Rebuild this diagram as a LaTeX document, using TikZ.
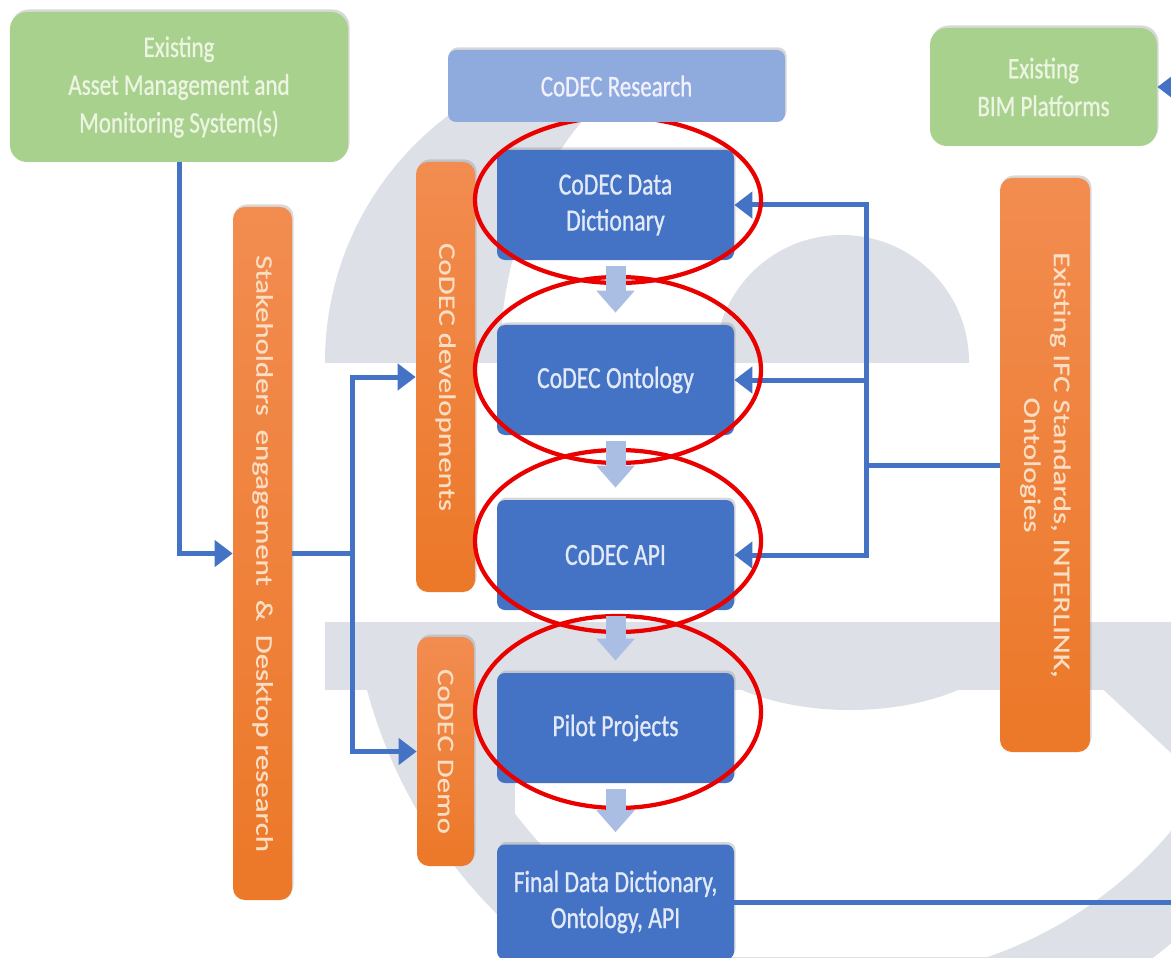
\documentclass[tikz,border=0pt]{standalone}
\usepackage{fontspec}
\setmainfont{Carlito}[FakeStretch=0.77, FakeBold=0.8]
\newfontfamily\sidefont{Carlito}[FakeStretch=1.3, FakeBold=0.6]
\usetikzlibrary{arrows.meta, positioning, shadows}

\definecolor{boxgreen}{RGB}{169,209,142}
\definecolor{greentext}{RGB}{236,244,226}
\definecolor{boxblue}{RGB}{68,114,196}
\definecolor{bluetext}{RGB}{226,234,248}
\definecolor{researchblue}{RGB}{143,170,220}
\definecolor{orangetop}{RGB}{242,140,80}
\definecolor{orangebot}{RGB}{236,120,40}
\definecolor{orangetext}{RGB}{250,222,196}
\definecolor{linkblue}{RGB}{68,114,196}
\definecolor{stepblue}{RGB}{170,189,227}
\definecolor{wmark}{RGB}{221,224,231}
\definecolor{ringred}{RGB}{235,0,0}

\tikzset{
  softshadow/.style={drop shadow={shadow xshift=0.3mm, shadow yshift=0.5mm, opacity=0.3, fill=black!50}},
  greenbox/.style={fill=boxgreen, rounded corners=3.4mm, text=greentext, align=center,
    inner sep=1mm, font=\fontsize{17}{21.5}\selectfont, softshadow},
  researchbox/.style={fill=researchblue, rounded corners=1.6mm, text=white!94!blue, align=center,
    inner sep=1mm, minimum width=67.4mm, minimum height=14.4mm, font=\fontsize{17}{21}\selectfont, softshadow},
  bluebox/.style={fill=boxblue, rounded corners=1.6mm, text=bluetext, align=center,
    inner sep=1mm, minimum width=47.4mm, minimum height=22mm, font=\fontsize{17.5}{20.5}\selectfont, softshadow},
  sidebox/.style={top color=orangetop, bottom color=orangebot, rounded corners=2.4mm, text=orangetext,
    inner sep=0mm, font=\sidefont\fontsize{13.5}{17}\selectfont, softshadow},
  wire/.style={draw=linkblue, line width=1mm},
  link/.style={wire, -{Triangle[length=3.6mm, width=5.2mm]}},
  steparrow/.style={draw=stepblue, line width=4mm, -{Triangle[length=4.4mm, width=7.4mm]}},
  redring/.style={draw=ringred, line width=0.85mm}
}

\begin{document}
\begin{tikzpicture}[x=0.2mm, y=-0.2mm]
\path[use as bounding box, fill=white] (0,0) rectangle (1171,957);

\begin{scope}
  \clip (0,0) rectangle (1171,362);
  \fill[wmark] (633,362) circle [radius=61.6mm];
  \fill[white] (760,362) ellipse [x radius=52mm, y radius=66mm];
  \fill[wmark] (842,362) circle [radius=25.4mm];
\end{scope}
\begin{scope}
  \clip (0,622) rectangle (1171,957);
  \fill[wmark] (850,560) circle [radius=100mm];
  \clip (850,560) circle [radius=84mm];
  \fill[white] (515,690) rectangle (1171,957);
\end{scope}
\begin{scope}
  \clip (0,622) rectangle (1171,957);
  \fill[wmark] (325,622) rectangle (1171,690);
  \fill[wmark] (850,622) ellipse [x radius=34mm, y radius=17.6mm];
  \fill[wmark] (1031,622) -- (1171,622) -- (1171,753) -- cycle;
\end{scope}

\node[greenbox, minimum width=67.6mm, minimum height=30mm] (amms) at (179,87)%
{Existing\\Asset Management and\\Monitoring System(s)};
\node[greenbox, minimum width=45.4mm, minimum height=23.6mm] (bim) at (1043.5,87)%
{Existing\\BIM Platforms};

\node[sidebox, minimum width=11.8mm, minimum height=138.6mm] (stake) at (262.5,553.5)%
{\rotatebox{-90}{Stakeholders\ \ engagement\ \ \&\ \ Desktop research}};
\node[sidebox, minimum width=11.8mm, minimum height=86mm] (dev) at (445.5,377)%
{\rotatebox{-90}{CoDEC developments}};
\node[sidebox, minimum width=11.4mm, minimum height=45.8mm] (demo) at (445.5,751.5)%
{\rotatebox{-90}{CoDEC Demo}};
\node[sidebox, minimum width=18mm, minimum height=114.8mm] (ifc) at (1045,465)%
{\rotatebox{-90}{\begin{tabular}{@{}c@{}}Existing IFC Standards, INTERLINK,\\Ontologies\end{tabular}}};

\node[bluebox] (dd) at (615.5,205) {CoDEC Data\\Dictionary};
\node[bluebox] (ont) at (615.5,380) {CoDEC Ontology};
\node[bluebox] (api) at (615.5,555) {CoDEC API};
\node[bluebox] (pilot) at (615.5,728) {Pilot Projects};
\node[bluebox, minimum height=23mm] (final) at (615.5,902)%
{Final Data Dictionary,\\Ontology, API};

\coordinate (split) at (352,553.5);
\coordinate (join) at (866,465);
\coordinate (offpage) at (1240,902);

\draw[link] (amms.south) |- (stake.west);
\draw[wire] (stake.east) -- (split);
\draw[link] (split) |- (dev.west);
\draw[link] (split) |- (demo.west);
\draw[wire] (ifc.west) -- (join);
\foreach \n in {dd, ont, api}
  \draw[link] (join) |- (\n.east);
\draw[link] (final.east) -- (offpage) |- (bim.east);

\foreach \cy/\ry in {200/16.6, 370/18.6, 541/18.2, 712/19.2}
  \draw[redring] (618,\cy) ellipse [x radius=28.6mm, y radius=\ry mm];

\foreach \a/\b in {dd/ont, ont/api, api/pilot, pilot/final}
  \draw[steparrow] ([yshift=-1.2mm]\a.south) -- ([yshift=2.4mm]\b.north);

\node[researchbox] (research) at (616.5,86) {CoDEC Research};
\end{tikzpicture}
\end{document}
